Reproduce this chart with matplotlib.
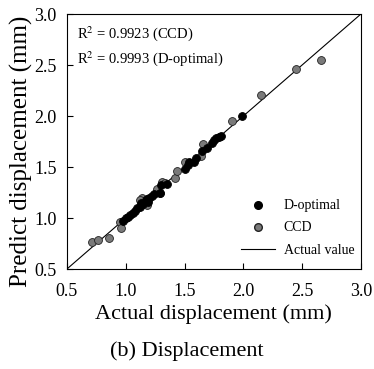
import matplotlib.pyplot as plt
from matplotlib.lines import Line2D

plt.rcParams["font.family"] = ["Liberation Serif", "DejaVu Serif"]
plt.rcParams["mathtext.fontset"] = "stix"

# CCD points (actual, predicted)
ccd_actual = [0.71, 0.76, 0.86, 0.95, 0.96, 1.14, 1.18, 1.27, 1.31, 1.33,
              1.42, 1.44, 1.50, 1.64, 1.66, 1.90, 2.15, 2.45, 2.66, 1.12, 1.29]
ccd_pred = [0.765, 0.78, 0.80, 0.96, 0.90, 1.20, 1.13, 1.28, 1.35, 1.34,
            1.39, 1.46, 1.55, 1.61, 1.73, 1.95, 2.21, 2.46, 2.55, 1.18, 1.25]

# D-optimal points
dopt_actual = [0.98, 1.00, 1.02, 1.04, 1.06, 1.08, 1.10, 1.12, 1.13, 1.15,
               1.17, 1.18, 1.19, 1.20, 1.22, 1.24, 1.29, 1.30, 1.35, 1.50,
               1.53, 1.54, 1.58, 1.60, 1.65, 1.69, 1.73, 1.75, 1.77, 1.79,
               1.81, 1.99]
dopt_pred = [0.97, 1.00, 1.01, 1.03, 1.05, 1.07, 1.10, 1.11, 1.15, 1.14,
             1.18, 1.19, 1.16, 1.20, 1.22, 1.24, 1.25, 1.32, 1.33, 1.48,
             1.52, 1.55, 1.55, 1.59, 1.66, 1.69, 1.74, 1.76, 1.78, 1.79,
             1.80, 2.00]

line_x = [0.5, 3.0]
ticks = [0.5, 1.0, 1.5, 2.0, 2.5, 3.0]

fig = plt.figure(figsize=(3.74, 3.69), dpi=100)
ax = fig.add_axes([0.179, 0.271, 0.786, 0.691])

ax.plot(line_x, line_x, color="black", linewidth=0.8, zorder=1)
ax.scatter(dopt_actual, dopt_pred, s=32, color="black", edgecolor="black",
           linewidth=0.6, zorder=3)
ax.scatter(ccd_actual, ccd_pred, s=32, color="#7a7a7a", edgecolor="#222222",
           linewidth=0.6, zorder=2)

ax.set_xlim(0.5, 3.0)
ax.set_ylim(0.5, 3.0)
ax.set_xticks(ticks)
ax.set_yticks(ticks)
ax.set_xticklabels([f"{t:.1f}" for t in ticks])
ax.set_yticklabels([f"{t:.1f}" for t in ticks])
ax.tick_params(direction="in", length=4, width=0.8, labelsize=13)
ax.tick_params(axis="x", pad=10)
ax.tick_params(axis="y", pad=7.5)
for sp in ax.spines.values():
    sp.set_linewidth(0.8)

ax.set_xlabel("Actual displacement (mm)", fontsize=16, labelpad=3)
ax.set_ylabel("Predict displacement (mm)", fontsize=18)
ax.yaxis.set_label_coords(-0.115, 0.463)

ax.text(0.034, 0.906, r"R$^2$ = 0.9923 (CCD)", transform=ax.transAxes,
        fontsize=10.5, va="baseline")
ax.text(0.034, 0.808, r"R$^2$ = 0.9993 (D-optimal)", transform=ax.transAxes,
        fontsize=10.5, va="baseline")

handles = [
    Line2D([], [], marker="o", linestyle="none", color="black",
           markersize=5.5, label="D-optimal"),
    Line2D([], [], marker="o", linestyle="none", color="#7a7a7a",
           markeredgecolor="#222222", markersize=5.5, label="CCD"),
    Line2D([], [], color="black", linewidth=0.8, label="Actual value"),
]
ax.legend(handles=handles, loc="lower right", bbox_to_anchor=(1.02, 0.0),
          frameon=False, fontsize=10, handlelength=2.45, handletextpad=0.6,
          labelspacing=0.65)

fig.text(0.5, 0.035, "(b) Displacement", ha="center", fontsize=16)

fig.savefig("out.png", dpi=100)
